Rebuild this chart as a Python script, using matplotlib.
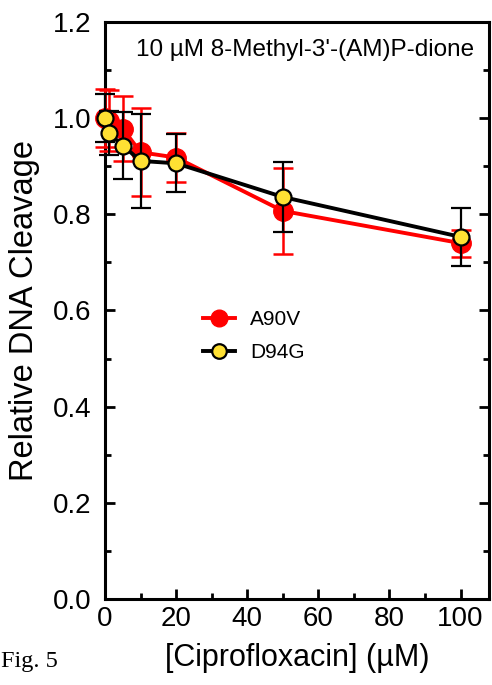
import matplotlib.pyplot as plt
from matplotlib.lines import Line2D
from matplotlib.ticker import MultipleLocator

plt.rcParams['font.family'] = ['Liberation Sans', 'DejaVu Sans']

# data
cipro = [0, 1, 5, 10, 20, 50, 100]
a90v = [1.00, 0.995, 0.978, 0.929, 0.918, 0.807, 0.740]
a90v_err = [0.06, 0.063, 0.068, 0.092, 0.05, 0.089, 0.028]
d94g = [1.00, 0.969, 0.943, 0.911, 0.906, 0.836, 0.753]
d94g_err = [0.05, 0.046, 0.07, 0.097, 0.06, 0.072, 0.06]

RED = '#ff0000'
YELLOW = '#ffe033'

fig = plt.figure(figsize=(4.92, 6.85), dpi=100)
ax = fig.add_axes([0.2134, 0.1255, 0.7806, 0.8425])

ax.errorbar(cipro, a90v, yerr=a90v_err, color=RED, lw=2.8,
            marker='o', ms=14, mfc=RED, mec=RED,
            elinewidth=1.8, capsize=7, capthick=1.8,
            zorder=3, clip_on=False)
ax.errorbar(cipro, d94g, yerr=d94g_err, color='black', lw=2.8,
            marker='o', ms=11.5, mfc=YELLOW, mec='black', mew=1.6,
            elinewidth=1.6, capsize=7, capthick=1.6,
            zorder=4, clip_on=False)

ax.set_xlim(0, 108)
ax.set_ylim(0, 1.2)
ax.xaxis.set_major_locator(MultipleLocator(20))
ax.xaxis.set_minor_locator(MultipleLocator(10))
ax.yaxis.set_major_locator(MultipleLocator(0.2))
ax.yaxis.set_minor_locator(MultipleLocator(0.1))
ax.yaxis.set_major_formatter(plt.FormatStrFormatter('%.1f'))
ax.tick_params(which='both', direction='in', width=2, labelsize=20,
               right=True, top=False)
ax.tick_params(axis='y', pad=10)
ax.tick_params(axis='x', pad=5)
ax.tick_params(which='major', length=7)
ax.tick_params(which='minor', length=4)
for s in ax.spines.values():
    s.set_linewidth(2.2)

ax.set_xlabel('[Ciprofloxacin] (µM)', fontsize=22, labelpad=8)
ax.set_ylabel('Relative DNA Cleavage', fontsize=23.5, labelpad=9)

ax.text(0.52, 0.951, "10 µM 8-Methyl-3'-(AM)P-dione", transform=ax.transAxes,
        ha='center', va='center', fontsize=17.5)

handles = [
    Line2D([], [], color=RED, lw=2.8, marker='o', ms=12, mfc=RED, mec=RED),
    Line2D([], [], color='black', lw=2.8, marker='o', ms=10.5, mfc=YELLOW,
           mec='black', mew=1.6),
]
ax.legend(handles, ['A90V', 'D94G'], loc='upper left',
          bbox_to_anchor=(0.255, 0.5), borderpad=0, borderaxespad=0,
          frameon=False, fontsize=15, handlelength=1.55, handletextpad=0.7,
          labelspacing=0.65)

fig.text(0.002, 0.034, 'Fig. 5', family='Liberation Serif', fontsize=17.5,
         ha='left', va='center')

fig.savefig('out.png', dpi=100)
